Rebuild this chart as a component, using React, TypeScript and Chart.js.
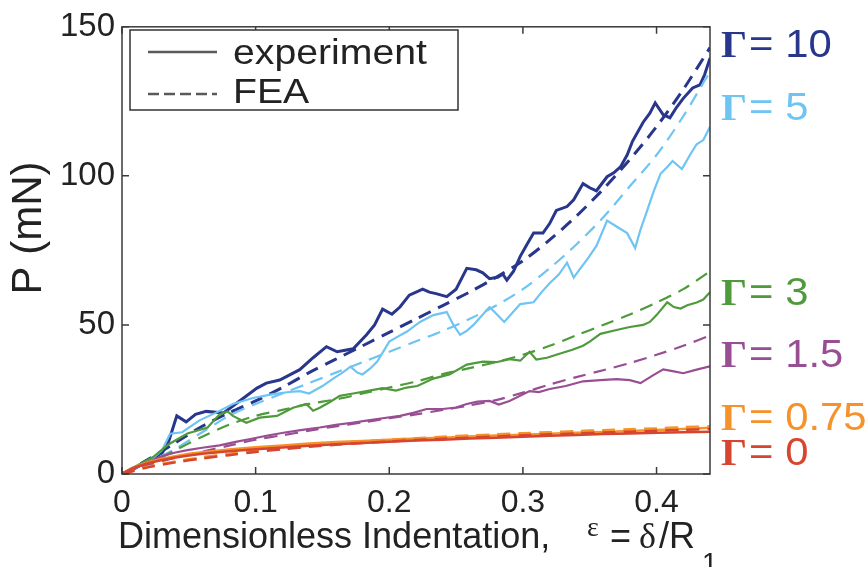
import React, { useEffect, useRef } from "react";
import { Chart, registerables } from "chart.js";

Chart.register(...registerables);

// ---------- data ----------
const xTickVals = [0, 0.1, 0.2, 0.3, 0.4];
const yTickVals = [0, 50, 100, 150];

const feaX = [0, 0.02, 0.04, 0.06, 0.08, 0.1, 0.12, 0.14, 0.16, 0.18, 0.2, 0.22, 0.24, 0.26, 0.28, 0.3, 0.32, 0.34, 0.36, 0.38, 0.4, 0.42, 0.44];
const fea10 = [0, 5, 10.5, 16, 20.5, 24.5, 29, 34, 38.5, 43, 47.5, 52, 56.5, 61, 66, 71.5, 78.5, 86.5, 95.5, 105.5, 116.5, 129, 143];
const fea5 = [0, 4, 8.5, 14, 19.5, 23.5, 27, 30.5, 34, 37.5, 41, 44.5, 48, 52, 56.5, 62, 69, 77, 86, 96.5, 107, 120, 135];
const fea3 = [0, 3.5, 8, 12.5, 16.5, 19.5, 21.5, 23.5, 25, 27, 29, 31, 33.5, 35.5, 37.5, 40, 43, 46.5, 50, 53.5, 57.5, 62, 68];
const fea15 = [0, 3, 5.5, 7.5, 9.5, 11.5, 13, 14.5, 16, 17.3, 18.7, 20, 21.5, 23, 24.8, 27.3, 30, 32.5, 34.8, 37.2, 40, 43, 46.5];
const fea075 = [0, 2.5, 4.2, 5.6, 6.8, 8, 8.9, 9.7, 10.4, 11, 11.5, 12, 12.5, 12.9, 13.3, 13.7, 14, 14.4, 14.7, 15, 15.3, 15.7, 16];
const fea0 = [0, 2.3, 3.9, 5.2, 6.3, 7.4, 8.3, 9.1, 9.8, 10.4, 10.9, 11.4, 11.8, 12.2, 12.6, 13, 13.3, 13.6, 13.9, 14.2, 14.5, 14.8, 15.1];

const exp10X = [0, 0.01, 0.02, 0.03, 0.035, 0.041, 0.048, 0.055, 0.063, 0.076, 0.088, 0.101, 0.108, 0.118, 0.133, 0.143, 0.153, 0.161, 0.167, 0.173, 0.183, 0.189, 0.195, 0.202, 0.208, 0.215, 0.225, 0.23, 0.235, 0.243, 0.25, 0.258, 0.265, 0.27, 0.275, 0.281, 0.285, 0.288, 0.293, 0.298, 0.303, 0.308, 0.315, 0.32, 0.325, 0.333, 0.338, 0.345, 0.35, 0.355, 0.363, 0.368, 0.373, 0.378, 0.382, 0.39, 0.395, 0.399, 0.405, 0.41, 0.415, 0.42, 0.427, 0.4325, 0.436, 0.44];
const exp10Y = [0, 2, 4.5, 7, 11, 19.5, 17.5, 20, 21, 20.5, 24.5, 28.8, 30.5, 31.5, 35, 39, 42.7, 41, 41.5, 42, 46.7, 50, 55.3, 53.6, 56, 60, 62, 61, 60.5, 59.5, 62, 69, 68.5, 67.5, 65.5, 66, 67, 65, 68, 73, 77, 80.8, 80.8, 84, 88.4, 89.7, 92, 97.4, 96, 95, 99.7, 101, 103, 107, 111.6, 118, 121, 124.5, 120.5, 119.5, 123, 126, 129.5, 130.5, 134, 139.5];

const exp5X = [0, 0.01, 0.02, 0.03, 0.036, 0.045, 0.058, 0.07, 0.083, 0.098, 0.113, 0.125, 0.133, 0.14, 0.15, 0.158, 0.165, 0.171, 0.176, 0.18, 0.186, 0.191, 0.2, 0.206, 0.213, 0.223, 0.233, 0.243, 0.248, 0.253, 0.258, 0.263, 0.268, 0.275, 0.281, 0.286, 0.292, 0.298, 0.308, 0.314, 0.32, 0.327, 0.333, 0.338, 0.343, 0.348, 0.355, 0.363, 0.37, 0.378, 0.384, 0.388, 0.393, 0.398, 0.403, 0.408, 0.412, 0.419, 0.425, 0.43, 0.435, 0.44];
const exp5Y = [0, 2, 4, 8, 13.5, 14, 18, 20.5, 23.5, 25.5, 26.8, 27.5, 27.8, 27, 29.5, 32, 34, 36, 34, 33.4, 35.5, 37.7, 44.4, 46, 47.7, 51, 53.3, 54.3, 50, 46.7, 48, 50, 52.5, 56, 53.3, 51, 54, 57, 57.6, 61, 64, 67, 70.9, 65.9, 69, 71.9, 76.5, 85, 83, 80.8, 75.8, 82, 88.4, 95, 100.7, 103, 105, 102.3, 107, 110.6, 112, 116.5];

const exp3X = [0, 0.01, 0.023, 0.035, 0.049, 0.064, 0.073, 0.079, 0.083, 0.093, 0.103, 0.116, 0.128, 0.138, 0.143, 0.148, 0.155, 0.163, 0.173, 0.183, 0.195, 0.205, 0.213, 0.221, 0.233, 0.245, 0.258, 0.27, 0.28, 0.29, 0.298, 0.305, 0.31, 0.318, 0.325, 0.337, 0.345, 0.35, 0.358, 0.37, 0.38, 0.39, 0.395, 0.4, 0.408, 0.413, 0.418, 0.423, 0.43, 0.435, 0.44];
const exp3Y = [0, 2.5, 5.6, 10, 13.6, 15.6, 20, 21, 19.5, 17.2, 18.9, 19.5, 22.2, 23.5, 21.2, 22.2, 24, 26.2, 27, 27.8, 28.8, 28, 29, 29.5, 32, 33.4, 36.7, 37.7, 37.5, 38.5, 38, 41, 38.4, 39, 40, 41.7, 43, 44.4, 47, 48.3, 49.3, 50, 51, 53.3, 57.6, 56, 55.5, 56.6, 57.5, 58.5, 61];

const exp15X = [0, 0.01, 0.02, 0.03, 0.04, 0.049, 0.06, 0.073, 0.085, 0.098, 0.11, 0.123, 0.135, 0.148, 0.16, 0.172, 0.183, 0.195, 0.208, 0.218, 0.228, 0.24, 0.25, 0.258, 0.266, 0.275, 0.282, 0.29, 0.305, 0.312, 0.32, 0.332, 0.345, 0.358, 0.37, 0.38, 0.388, 0.397, 0.405, 0.412, 0.42, 0.43, 0.44];
const exp15Y = [0, 2, 4, 6, 7.2, 8, 8.8, 9.6, 10.8, 11.9, 13, 14, 14.8, 15.6, 16.5, 17.2, 17.9, 18.7, 19.5, 20.5, 21.8, 21.8, 22.3, 23.5, 24.3, 24.5, 23.3, 24.5, 27.8, 27.5, 28.5, 29.5, 31.1, 31.5, 31.8, 31.5, 30.5, 33, 35.1, 34.5, 33.8, 35, 36.1];

const expSmoothX = [0, 0.01, 0.02, 0.03, 0.04, 0.05, 0.06, 0.08, 0.1, 0.12, 0.14, 0.16, 0.18, 0.2, 0.22, 0.24, 0.26, 0.28, 0.3, 0.32, 0.34, 0.36, 0.38, 0.4, 0.42, 0.44];
const exp075Y = [0, 2.5, 4, 5.1, 6, 6.8, 7.3, 8.2, 9, 9.6, 10.2, 10.7, 11.1, 11.5, 11.9, 12.2, 12.6, 12.9, 13.2, 13.5, 13.8, 14.1, 14.4, 14.8, 15.1, 15.5];
const exp0Y = [0, 2.3, 3.7, 4.7, 5.5, 6.2, 6.8, 7.6, 8.3, 8.9, 9.5, 10, 10.4, 10.8, 11.2, 11.5, 11.9, 12.2, 12.5, 12.8, 13.1, 13.4, 13.6, 13.8, 14, 14.2];

const gammaNames = ["10", "5", "3", "1.5", "0.75", "0"];
const gammaColors = ["#28368C", "#6EC4F2", "#4F9A3B", "#994E93", "#F5922A", "#D6452F"];
const legendNames = ["experiment", "FEA"];
const xTitle = "Dimensionless Indentation,";
const yTitle = "P (mN)";

const pts = (xs: number[], ys: number[]) => xs.map((x, i) => ({ x, y: ys[i] }));

const SANS = "'Liberation Sans', Arial, Helvetica, sans-serif";
const SERIF = "'Liberation Serif', 'Times New Roman', serif";

const stretchText = (ctx: any, text: string, x: number, y: number, sx: number) => {
  ctx.save();
  ctx.translate(x, y);
  ctx.scale(sx, 1);
  ctx.fillText(text, 0, 0);
  ctx.restore();
};

const decorPlugin = {
  id: "decor",
  afterDatasetsDraw(chart: any) {
    const ctx = chart.ctx;
    const { left, right, top, bottom } = chart.chartArea;
    const xs = chart.scales.x;
    const ys = chart.scales.y;
    ctx.save();
    // frame
    ctx.strokeStyle = "#3a3a3a";
    ctx.lineWidth = 1.5;
    ctx.strokeRect(left, top, right - left, bottom - top);
    // inward ticks
    ctx.beginPath();
    xTickVals.forEach((v) => {
      const px = xs.getPixelForValue(v);
      ctx.moveTo(px, bottom);
      ctx.lineTo(px, bottom - 7);
      ctx.moveTo(px, top);
      ctx.lineTo(px, top + 7);
    });
    yTickVals.forEach((v) => {
      const py = ys.getPixelForValue(v);
      ctx.moveTo(left, py);
      ctx.lineTo(left + 7, py);
      ctx.moveTo(right, py);
      ctx.lineTo(right - 7, py);
    });
    ctx.stroke();

    // legend
    ctx.fillStyle = "#fff";
    ctx.fillRect(130, 30, 328, 80);
    ctx.strokeStyle = "#333";
    ctx.lineWidth = 1.5;
    ctx.strokeRect(130, 30, 328, 80);
    ctx.strokeStyle = "#5a5a5a";
    ctx.lineWidth = 2.5;
    ctx.beginPath();
    ctx.moveTo(148, 52);
    ctx.lineTo(217, 52);
    ctx.stroke();
    ctx.setLineDash([11, 5]);
    ctx.beginPath();
    ctx.moveTo(148, 94);
    ctx.lineTo(217, 94);
    ctx.stroke();
    ctx.setLineDash([]);
    ctx.fillStyle = "#222";
    ctx.font = `35px ${SANS}`;
    ctx.textAlign = "left";
    ctx.textBaseline = "alphabetic";
    stretchText(ctx, legendNames[0], 233, 64, 1.12);
    stretchText(ctx, legendNames[1], 233, 103, 1.12);

    // gamma labels
    const baselines = [57, 120, 305, 367, 430, 465];
    gammaNames.forEach((g, i) => {
      ctx.fillStyle = gammaColors[i];
      ctx.font = `bold 38px ${SERIF}`;
      stretchText(ctx, "Γ", 721, baselines[i], 1.08);
      const w = ctx.measureText("Γ").width * 1.08;
      ctx.font = `38px ${SANS}`;
      stretchText(ctx, "= " + g, 721 + w + 2, baselines[i], 1.1);
    });

    // y title
    ctx.fillStyle = "#222";
    ctx.save();
    ctx.translate(29, 228);
    ctx.rotate(-Math.PI / 2);
    ctx.font = `42px ${SANS}`;
    ctx.textAlign = "center";
    ctx.textBaseline = "middle";
    ctx.fillText(yTitle, 0, 0);
    ctx.restore();

    // x title
    ctx.font = `36px ${SANS}`;
    ctx.textAlign = "left";
    ctx.textBaseline = "alphabetic";
    ctx.fillText(xTitle, 118, 548);
    ctx.font = `28px ${SERIF}`;
    ctx.fillText("ε", 587, 536);
    ctx.font = `36px ${SANS}`;
    ctx.fillText("=", 610, 548);
    ctx.font = `36px ${SERIF}`;
    ctx.fillText("δ", 639, 548);
    ctx.font = `36px ${SANS}`;
    ctx.fillText("/R", 659, 548);
    ctx.font = `28px ${SANS}`;
    ctx.fillText("1", 702, 572);
    ctx.restore();
  },
};

export default function App() {
  const ref = useRef<HTMLCanvasElement>(null);
  useEffect(() => {
    if (!ref.current) return;
    const solid = (data: any, color: string, w = 2) => ({
      data,
      borderColor: color,
      backgroundColor: color,
      borderWidth: w,
      pointRadius: 0,
      tension: 0,
      fill: false,
    });
    const dashed = (data: any, color: string, w = 2.2) => ({
      data,
      borderColor: color,
      backgroundColor: color,
      borderWidth: w,
      borderDash: [13, 8],
      pointRadius: 0,
      tension: 0.3,
      fill: false,
    });
    const chart = new Chart(ref.current, {
      type: "line",
      data: {
        datasets: [
          solid(pts(expSmoothX, exp0Y), gammaColors[5], 2.5),
          dashed(pts(feaX, fea0), gammaColors[5], 2.5),
          solid(pts(expSmoothX, exp075Y), gammaColors[4], 2.5),
          dashed(pts(feaX, fea075), gammaColors[4], 2.5),
          dashed(pts(feaX, fea15), gammaColors[3]),
          solid(pts(exp15X, exp15Y), gammaColors[3], 2.2),
          dashed(pts(feaX, fea3), gammaColors[2]),
          solid(pts(exp3X, exp3Y), gammaColors[2], 2.2),
          dashed(pts(feaX, fea5), gammaColors[1]),
          solid(pts(exp5X, exp5Y), gammaColors[1], 2.2),
          dashed(pts(feaX, fea10), gammaColors[0], 3),
          solid(pts(exp10X, exp10Y), gammaColors[0], 3),
        ] as any,
      },
      options: {
        animation: false,
        responsive: false,
        layout: { padding: { left: 0, right: 155, top: 21, bottom: 0 } },
        plugins: { legend: { display: false }, tooltip: { enabled: false } },
        scales: {
          x: {
            type: "linear",
            min: 0,
            max: 0.44,
            grid: { display: false, drawTicks: false, tickLength: 0 },
            border: { display: false },
            afterBuildTicks: (s: any) => {
              s.ticks = xTickVals.map((v) => ({ value: v }));
            },
            afterFit: (s: any) => {
              s.height = 93;
            },
            ticks: {
              padding: 10,
              color: "#222",
              font: { family: SANS, size: 32 },
              maxRotation: 0,
              callback: (v: any) => (v === 0 ? "0" : Number(v).toFixed(1)),
            },
          },
          y: {
            type: "linear",
            min: 0,
            max: 150,
            grid: { display: false, drawTicks: false, tickLength: 0 },
            border: { display: false },
            afterBuildTicks: (s: any) => {
              s.ticks = yTickVals.map((v) => ({ value: v }));
            },
            afterFit: (s: any) => {
              s.width = 122;
            },
            ticks: {
              padding: 7,
              color: "#222",
              font: { family: SANS, size: 33 },
              callback: (v: any) => String(v),
            },
          },
        },
      },
      plugins: [decorPlugin],
    });
    return () => chart.destroy();
  }, []);
  return (
    <div style={{ position: "absolute", left: 0, top: 0, width: 865, height: 567, background: "#fff" }}>
      <canvas ref={ref} width={865} height={567} />
    </div>
  );
}
